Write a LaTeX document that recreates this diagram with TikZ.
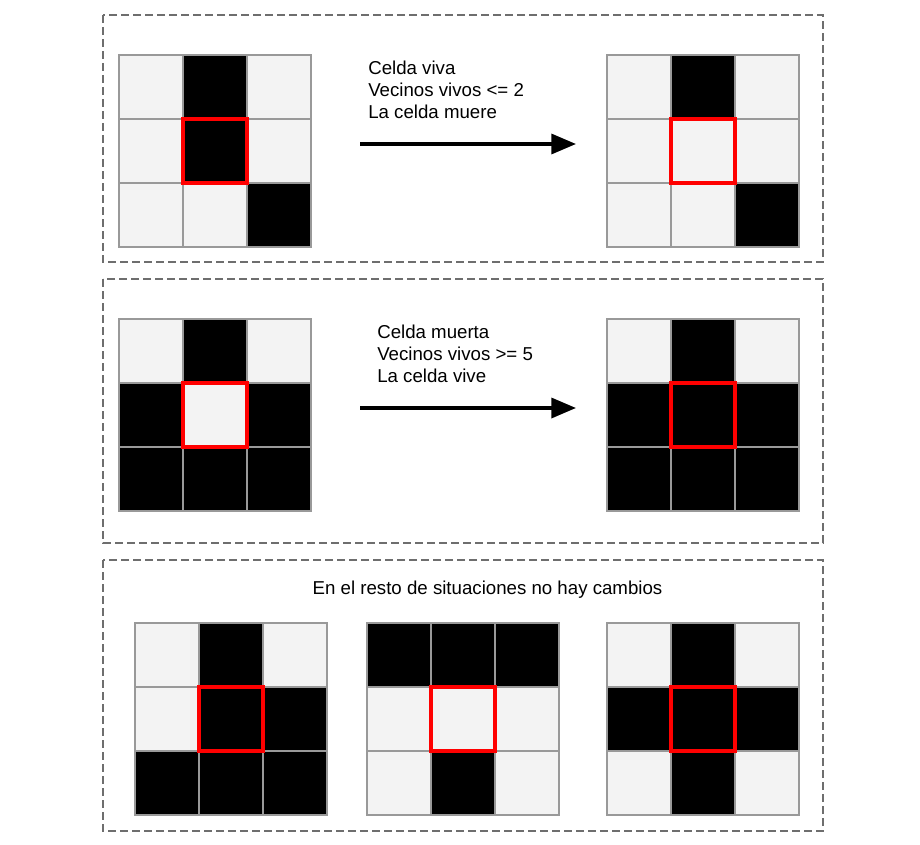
\documentclass[tikz,border=0pt]{standalone}
\usepackage{fontspec}
\setmainfont{Liberation Sans}
\usetikzlibrary{arrows.meta}
\definecolor{cellL}{HTML}{F3F3F3}
\definecolor{cellD}{HTML}{000000}
\definecolor{gridline}{HTML}{999999}
\definecolor{panelgray}{HTML}{6E6E6E}
\definecolor{selred}{HTML}{FF0000}
\tikzset{
  cellbox/.style={draw=gridline, line width=1.1pt, minimum size=48pt, inner sep=0pt, outer sep=0pt},
  selbox/.style={draw=selred, line width=2.3pt},
  panel/.style={draw=panelgray, line width=0.9pt, dash pattern=on 6pt off 3pt},
  ruletext/.style={font=\fontsize{14}{16.5}\selectfont, align=left, inner sep=0pt, anchor=north west},
  titletext/.style={font=\fontsize{14}{16.5}\selectfont, inner sep=0pt, anchor=base},
  rulearrow/.style={line width=2.6pt, -{Triangle[length=18.5pt,width=15pt]}}
}
% #1 name, #2 left x, #3 top y (px), #4 list of 9 cell colours (L/D)
\newcommand{\lifegrid}[4]{%
  \foreach \v [count=\i from 0] in {#4} {%
    \pgfmathtruncatemacro{\rr}{floor(\i/3)}%
    \pgfmathtruncatemacro{\cc}{mod(\i,3)}%
    \node[cellbox, fill=cell\v] (#1-\i) at ({#2+\cc*64+32},{#3+\rr*64+32}) {};
  }
  \draw[selbox] (#1-4.north west) rectangle (#1-4.south east);
}
\begin{document}
\begin{tikzpicture}[x=0.75pt, y=-0.75pt]
\useasboundingbox (0,0) rectangle (920,845);
% panels
\draw[panel] (103,15) rectangle (823,262);
\draw[panel] (103,279) rectangle (823,543);
\draw[panel] (103,560) rectangle (823,831);
% panel 1
\lifegrid{ga}{119}{55}{L,D,L,L,D,L,L,L,D}
\lifegrid{gb}{607}{55}{L,D,L,L,L,L,L,L,D}
\node[ruletext] (t1) at (368,61) {Celda viva\\Vecinos vivos <= 2\\La celda muere};
\coordinate (a1s) at (360,144);
\coordinate (a1e) at (576,144);
\draw[rulearrow] (a1s) -- (a1e);
% panel 2
\lifegrid{gc}{119}{319}{L,D,L,D,L,D,D,D,D}
\lifegrid{gd}{607}{319}{L,D,L,D,D,D,D,D,D}
\node[ruletext] (t2) at (377,324.5) {Celda muerta\\Vecinos vivos >= 5\\La celda vive};
\coordinate (a2s) at (360,408);
\coordinate (a2e) at (576,408);
\draw[rulearrow] (a2s) -- (a2e);
% panel 3
\node[titletext] (t3) at (487.5,594) {En el resto de situaciones no hay cambios};
\lifegrid{ge}{135}{623}{L,D,L,L,D,D,D,D,D}
\lifegrid{gf}{367}{623}{D,D,D,L,L,L,L,D,L}
\lifegrid{gg}{607}{623}{L,D,L,D,D,D,L,D,L}
\end{tikzpicture}
\end{document}
